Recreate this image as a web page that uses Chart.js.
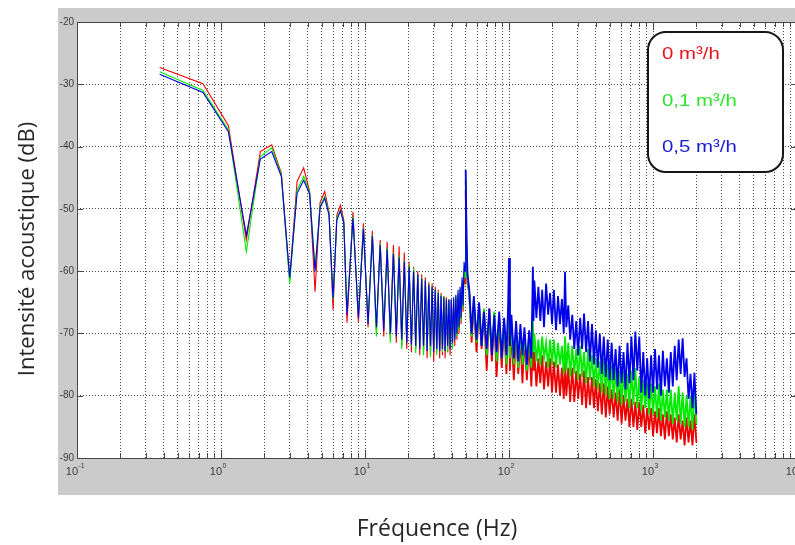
<!DOCTYPE html>
<html lang="fr">
<head>
<meta charset="utf-8">
<title>Intensité acoustique</title>
<script src="https://cdn.jsdelivr.net/npm/chart.js@4.4.1/dist/chart.umd.min.js"></script>
<style>
    html, body { margin: 0; padding: 0; background: #fff; overflow: hidden; }
    #spectre { position: absolute; left: 0; top: 0; }
</style>
</head>
<body>
<canvas id="spectre" width="820" height="545"></canvas>
<script>
// Fréquences (Hz) : lobes basse fréquence, pic 50 Hz, puis bruit large bande
const frequences = [
    0.375, 0.75, 1.125, 1.5, 1.875, 2.25, 2.625, 3, 3.375, 3.75, 4.125, 4.5, 4.875, 5.25, 5.625, 6, 6.375, 6.75, 7.125, 7.5,
    8.25, 9, 9.75, 10.5, 11.25, 12, 12.75, 13.5, 14.25, 15, 15.75, 16.5, 17.25, 18, 18.75, 19.5, 20.25, 21, 21.75, 22.5,
    23.25, 24, 24.75, 25.5, 26.25, 27, 27.75, 28.5, 29.25, 30, 30.75, 31.5, 32.25, 33, 33.75, 34.5, 35.25, 36, 36.75, 37.5,
    38.25, 39, 39.75, 40.5, 41.25, 42, 42.75, 43.5, 44.25, 45, 45.75, 46.5, 47.25, 48, 48.75, 49.5,
    50, 50.75, 51.5, 53, 55, 57, 59.5, 62, 64.5, 67, 70, 73, 76, 79, 82, 85.5, 89, 92.5, 96, 98.5, 100, 101.5,
    104, 108, 112, 116, 120, 124, 128, 133, 138, 143, 146.5, 148,
    150, 155, 160, 165, 170, 175, 181, 187, 193, 199,
    205, 212, 219, 226, 233, 240, 245, 250, 258, 266,
    275, 284, 293, 302, 312, 322, 332, 343, 354, 365,
    377, 389, 401, 414, 427, 441, 455, 470, 485, 500,
    516, 533, 550, 568, 586, 605, 624, 644, 665, 686,
    708, 731, 754, 778, 803, 829, 856, 883, 911, 940,
    970, 1001, 1033, 1066, 1100, 1135, 1171, 1209, 1248, 1288,
    1329, 1372, 1416, 1461, 1508, 1556, 1606, 1657, 1710, 1765,
    1822, 1880, 1940, 2000
];

// 0 m3/h (rouge)
const debit0 = [
    -27.3, -29.9, -36.6, -55.0, -40.8, -39.7, -44.3, -61.4, -45.6, -43.4, -47.2, -63.3, -49.0, -47.2, -50.5, -66.2, -51.0, -49.4, -51.8, -68.3,
    -50.5, -68.3, -52.3, -69.0, -53.5, -69.8, -55.0, -70.5, -55.3, -70.8, -55.8, -71.5, -56.0, -72.0, -57.0, -72.5, -58.5, -73.0, -59.3, -72.5,
    -60.0, -73.5, -60.5, -73.0, -61.0, -74.0, -61.8, -73.5, -62.0, -74.5, -62.5, -73.0, -63.0, -74.0, -63.5, -73.5, -64.0, -74.0, -64.2, -73.0,
    -64.5, -73.5, -64.6, -72.5, -64.5, -72.0, -64.2, -71.0, -63.8, -70.0, -63.0, -68.5, -62.0, -66.5, -60.0, -62.0,
    -47.0, -58.0, -62.0, -63.5, -71.5, -65.0, -73.0, -65.5, -72.5, -66.5, -76.0, -66.0, -74.5, -67.5, -77.0, -68.0, -75.5, -68.5, -76.5, -68.0, -67.0, -76.0,
    -69.5, -77.5, -70.0, -76.5, -71.0, -78.0, -70.5, -77.5, -71.5, -78.5, -71.0, -76.0,
    -73.0, -78.5, -74.0, -78.0, -73.5, -79.0, -74.5, -78.5, -74.0, -79.5,
    -74.5, -79.5, -75.0, -80.0, -75.5, -80.5, -74.5, -80.0, -75.5, -81.0,
    -75.5, -81.0, -76.0, -80.5, -76.5, -81.5, -76.0, -82.0, -77.0, -81.5,
    -77.0, -82.0, -77.5, -82.5, -78.0, -83.0, -78.0, -83.5, -78.5, -83.0,
    -79.0, -83.5, -79.5, -84.0, -79.0, -84.5, -80.0, -84.0, -80.5, -85.0,
    -80.5, -85.0, -81.0, -85.5, -81.0, -85.0, -81.5, -86.0, -82.0, -85.5,
    -82.0, -86.5, -82.5, -86.0, -82.0, -86.5, -83.0, -87.0, -82.5, -86.5,
    -83.0, -87.0, -83.5, -87.5, -83.0, -87.0, -84.0, -88.0, -83.5, -87.5,
    -84.0, -88.0, -83.0, -87.5
];

// 0,1 m3/h (vert)
const debit01 = [
    -28.0, -31.0, -37.3, -56.9, -41.6, -40.2, -44.6, -62.0, -47.0, -44.8, -47.4, -59.5, -49.6, -48.0, -50.7, -64.5, -51.5, -50.2, -52.2, -66.5,
    -51.3, -67.0, -53.0, -68.0, -54.2, -70.5, -55.5, -69.0, -56.3, -71.5, -57.0, -70.0, -57.5, -72.5, -58.3, -71.0, -59.0, -72.0, -59.5, -73.2,
    -60.5, -72.0, -61.0, -73.5, -61.5, -72.5, -62.0, -73.8, -62.5, -72.5, -63.0, -73.5, -63.3, -72.8, -63.8, -73.0, -64.0, -72.5, -64.5, -73.0,
    -64.5, -72.0, -64.8, -72.5, -64.5, -71.0, -64.0, -70.5, -63.5, -69.5, -62.8, -68.0, -61.5, -66.0, -59.5, -61.0,
    -45.5, -57.0, -61.0, -64.0, -70.5, -64.5, -71.5, -66.0, -72.0, -66.0, -73.5, -67.0, -73.0, -66.5, -74.5, -67.5, -74.0, -68.0, -75.0, -67.0, -64.5, -74.0,
    -68.5, -75.0, -69.0, -75.5, -69.5, -75.0, -70.0, -76.0, -70.0, -75.5, -68.0, -73.0,
    -70.0, -74.5, -71.0, -75.0, -70.5, -74.0, -71.5, -75.5, -71.0, -75.0,
    -71.0, -75.5, -71.5, -75.0, -72.0, -76.5, -70.5, -76.0, -71.5, -77.0,
    -72.0, -76.5, -72.5, -77.5, -72.0, -77.0, -73.0, -78.0, -72.5, -77.5,
    -73.5, -78.5, -74.0, -79.0, -74.5, -79.5, -74.0, -80.0, -75.0, -80.5,
    -75.0, -80.5, -75.5, -81.0, -76.0, -81.5, -76.0, -81.0, -76.5, -82.0,
    -76.0, -81.5, -75.5, -82.0, -77.0, -82.5, -77.5, -82.0, -78.0, -83.0,
    -78.0, -83.0, -78.5, -83.5, -78.0, -84.0, -79.0, -83.5, -79.0, -84.0,
    -79.0, -84.5, -79.5, -84.0, -78.5, -84.5, -79.5, -85.0, -80.0, -85.0,
    -80.0, -85.5, -79.0, -84.5
];

// 0,5 m3/h (bleu)
const debit05 = [
    -28.4, -31.3, -37.6, -54.2, -42.0, -40.8, -44.8, -61.0, -47.5, -45.4, -47.6, -60.0, -49.8, -48.3, -51.0, -64.3, -51.8, -50.3, -52.3, -67.0,
    -51.5, -67.5, -53.2, -68.5, -54.4, -69.0, -55.8, -69.5, -56.5, -70.0, -57.2, -70.5, -57.8, -71.0, -58.5, -71.5, -59.3, -71.8, -60.0, -72.0,
    -60.5, -72.5, -61.2, -72.0, -61.5, -72.8, -62.2, -72.0, -62.5, -73.0, -63.0, -72.5, -63.5, -72.8, -64.0, -72.5, -64.2, -72.8, -64.5, -72.0,
    -64.6, -72.5, -64.5, -71.5, -64.2, -71.0, -63.8, -70.0, -63.0, -69.0, -62.5, -67.5, -61.0, -65.5, -58.5, -60.0,
    -43.8, -55.0, -60.5, -63.0, -70.0, -64.0, -71.0, -65.0, -72.0, -66.5, -72.5, -66.0, -73.5, -67.0, -73.0, -66.5, -74.0, -67.5, -73.5, -66.0, -57.9, -72.0,
    -67.0, -74.0, -68.0, -74.5, -68.5, -73.5, -69.0, -75.0, -69.5, -74.0, -59.3, -68.0,
    -61.5, -67.5, -62.5, -68.0, -63.0, -69.0, -62.0, -67.0, -63.5, -68.5,
    -63.0, -69.5, -64.0, -68.5, -64.5, -70.0, -60.1, -69.0, -65.5, -71.0,
    -67.0, -72.5, -68.0, -73.5, -67.5, -72.5, -66.8, -73.0, -68.0, -74.5,
    -68.5, -75.0, -69.5, -75.5, -70.0, -76.5, -70.5, -77.0, -71.0, -77.5,
    -71.5, -77.5, -72.5, -78.5, -72.0, -78.0, -73.0, -79.0, -71.5, -78.0,
    -70.5, -77.5, -69.7, -76.0, -70.5, -79.5, -73.0, -80.0, -74.0, -80.5,
    -73.5, -79.5, -72.5, -79.0, -73.5, -80.0, -72.8, -78.5, -74.0, -79.5,
    -73.0, -78.5, -72.0, -77.5, -71.0, -76.5, -70.8, -77.0, -74.0, -80.5,
    -76.5, -82.0, -76.3, -83.0
];

const legende = ['0 m³/h', '0,1 m³/h', '0,5 m³/h'];
const couleurs = ['rgb(238,0,0)', 'rgb(0,235,0)', 'rgb(0,0,235)'];
const couleursTexte = ['#e8141c', '#2fe42f', '#1c1cd2'];

const decades = [0.1, 1, 10, 100, 1000, 10000];
const yTicks = [-90, -80, -70, -60, -50, -40, -30, -20];

const policeEtroite = '"Liberation Sans Narrow", "Arial Narrow", Arial, sans-serif';
const policeTitre = '"Open Sans", "Noto Sans", sans-serif';

function points(valeurs) {
    return frequences.map((f, i) => ({ x: f, y: valeurs[i] }));
}

function ticksLog() {
    const ticks = [];
    decades.forEach((d, i) => {
        ticks.push({ value: d, major: true });
        if (i < decades.length - 1) {
            for (let m = 2; m <= 9; m++) ticks.push({ value: +(d * m).toPrecision(3), major: false });
        }
    });
    return ticks;
}

// fond gris, cadre, graduations internes, étiquettes 10^n, titre y et légende
const cadreMatlab = {
    id: 'cadreMatlab',
    beforeDraw(chart) {
        const { ctx, chartArea: a } = chart;
        ctx.save();
        ctx.fillStyle = '#fff';
        ctx.fillRect(0, 0, chart.width, chart.height);
        ctx.fillStyle = '#cbcbcb';
        ctx.fillRect(a.left - 19, a.top - 14, chart.width, a.bottom - a.top + 51);
        ctx.fillStyle = '#fff';
        ctx.fillRect(a.left, a.top, a.right - a.left, a.bottom - a.top);
        ctx.restore();
    },
    afterDraw(chart) {
        const { ctx, chartArea: a } = chart;
        const xs = chart.scales.x;
        const ys = chart.scales.y;
        ctx.save();
        ctx.strokeStyle = '#474747';
        ctx.lineWidth = 1;
        ctx.beginPath();
        xs.ticks.forEach(t => {
            const px = Math.round(xs.getPixelForValue(t.value)) + 0.5;
            const len = t.major ? 8 : 5;
            ctx.moveTo(px, a.bottom);
            ctx.lineTo(px, a.bottom - len);
            ctx.moveTo(px, a.top);
            ctx.lineTo(px, a.top + len);
        });
        ys.ticks.forEach(t => {
            const py = Math.round(ys.getPixelForValue(t.value)) + 0.5;
            ctx.moveTo(a.left, py);
            ctx.lineTo(a.left + 6, py);
            ctx.moveTo(a.right, py);
            ctx.lineTo(a.right - 6, py);
        });
        ctx.stroke();
        ctx.strokeRect(Math.round(a.left) + 0.5, Math.round(a.top) + 0.5, a.right - a.left, a.bottom - a.top);

        // étiquettes de l'axe x : 10 avec exposant
        ctx.fillStyle = '#3a3a3a';
        ctx.textBaseline = 'alphabetic';
        decades.forEach(d => {
            const px = xs.getPixelForValue(d);
            ctx.font = '11px ' + policeEtroite;
            ctx.textAlign = 'right';
            ctx.fillText('10', px + 1, a.bottom + 17);
            ctx.font = '7px ' + policeEtroite;
            ctx.textAlign = 'left';
            ctx.fillText(String(Math.round(Math.log10(d))), px + 1.5, a.bottom + 10);
        });

        // titre de l'axe y
        ctx.save();
        ctx.translate(28, (a.top + a.bottom) / 2 + 9);
        ctx.rotate(-Math.PI / 2);
        ctx.font = '22px ' + policeTitre;
        ctx.fillStyle = '#262626';
        ctx.textAlign = 'center';
        ctx.textBaseline = 'middle';
        ctx.fillText('Intensité acoustique (dB)', 0, 0);
        ctx.restore();

        // légende
        const lx = 648, ly = 32, lw = 135, lh = 140;
        ctx.beginPath();
        ctx.roundRect(lx, ly, lw, lh, 18);
        ctx.fillStyle = '#fff';
        ctx.fill();
        ctx.lineWidth = 2;
        ctx.strokeStyle = '#161616';
        ctx.stroke();
        ctx.font = '17px Arial, "Liberation Sans", sans-serif';
        ctx.textAlign = 'left';
        legende.forEach((txt, i) => {
            ctx.save();
            ctx.translate(lx + 14, ly + 27 + i * 46.5);
            ctx.scale(1.2, 1);
            ctx.fillStyle = couleursTexte[i];
            ctx.fillText(txt, 0, 0);
            ctx.restore();
        });
        ctx.restore();
    }
};

const series = [debit0, debit01, debit05];

new Chart(document.getElementById('spectre'), {
    type: 'line',
    data: {
        datasets: series.map((s, i) => ({
            label: legende[i],
            data: points(s),
            borderColor: couleurs[i],
            borderWidth: 1.1,
            pointRadius: 0,
            tension: 0,
            fill: false,
            order: 2 - i,
            // trait plus épais dans la zone de bruit dense
            segment: { borderWidth: c => (c.p0.parsed.x >= 50 ? 1.8 : 1.1) }
        }))
    },
    options: {
        responsive: false,
        animation: false,
        events: [],
        layout: { padding: { left: 0, top: 22, right: 23, bottom: 0 } },
        plugins: {
            legend: { display: false },
            tooltip: { enabled: false }
        },
        scales: {
            x: {
                type: 'logarithmic',
                min: 0.1,
                max: 10000,
                afterBuildTicks: scale => { scale.ticks = ticksLog(); },
                afterFit: scale => { scale.height = 87; },
                ticks: { display: false },
                grid: { color: 'rgba(50,50,50,0.9)', drawTicks: false },
                border: { display: false, dash: [1, 2] },
                title: {
                    display: true,
                    text: 'Fréquence (Hz)',
                    color: '#262626',
                    font: { family: policeTitre, size: 23 },
                    padding: { top: 0, bottom: 2 }
                }
            },
            y: {
                min: -90,
                max: -20,
                afterBuildTicks: scale => { scale.ticks = yTicks.map(v => ({ value: v })); },
                afterFit: scale => { scale.width = 77; },
                ticks: {
                    color: '#3a3a3a',
                    padding: 3,
                    font: { family: policeEtroite, size: 10 }
                },
                grid: { color: 'rgba(50,50,50,0.9)', drawTicks: false },
                border: { display: false, dash: [1, 2] }
            }
        }
    },
    plugins: [cadreMatlab]
});
</script>
</body>
</html>
